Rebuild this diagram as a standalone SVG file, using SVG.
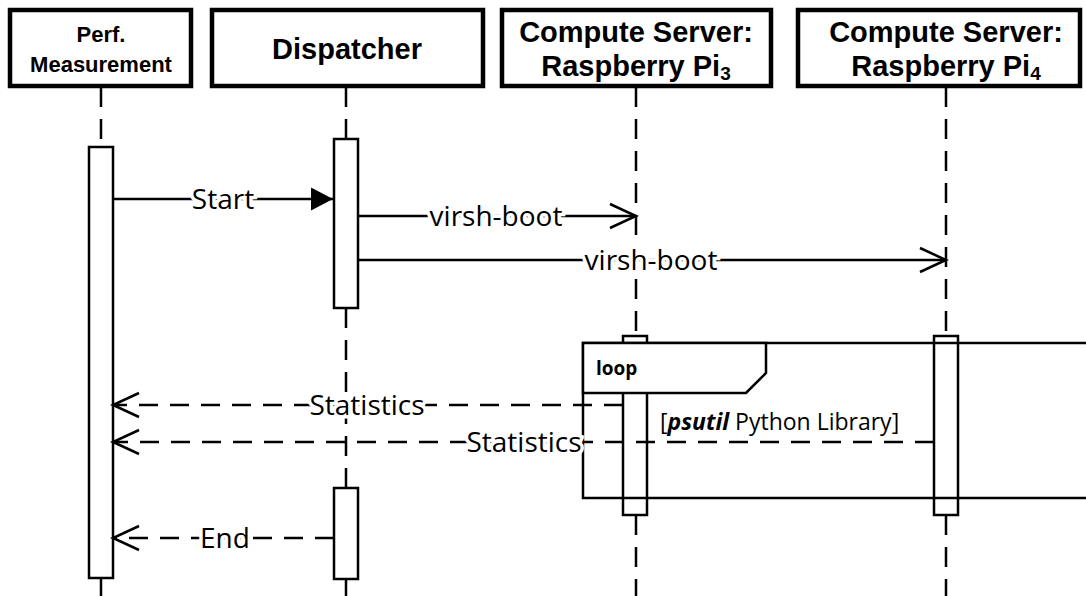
<svg xmlns="http://www.w3.org/2000/svg" width="1086" height="596" viewBox="0 0 1086 596">
<style>
.box{fill:#fff;stroke:#000;stroke-width:4.5}
.life{stroke:#000;stroke-width:2.5;stroke-dasharray:20 12;fill:none}
.act{fill:#fff;stroke:#000;stroke-width:2.5}
.frame{fill:none;stroke:#000;stroke-width:2.5}
.hdr{fill:#fff;stroke:#000;stroke-width:2.5}
.msg{stroke:#000;stroke-width:2.5;fill:none}
.ret{stroke:#000;stroke-width:2.5;fill:none;stroke-dasharray:19 12}
.title{font-family:"Liberation Sans",Arial,sans-serif;font-weight:bold;text-anchor:middle;fill:#000}
.tag{font-family:"Open Sans","Liberation Sans",sans-serif;font-weight:bold;fill:#000}
.lbl{font-family:"Open Sans","Liberation Sans",sans-serif;font-size:28px;text-anchor:middle;fill:#000;stroke:#fff;stroke-width:7;paint-order:stroke}
.guard{font-family:"Open Sans","Liberation Sans",sans-serif;font-size:23px;fill:#000}
</style>
<defs>
<marker id="filled" markerWidth="24" markerHeight="24" refX="22" refY="11.5" orient="auto" markerUnits="userSpaceOnUse" overflow="visible">
<path d="M0,0 L22,11.5 L0,23 Z" fill="#000"/>
</marker>
<marker id="open" markerWidth="30" markerHeight="28" refX="27" refY="13" orient="auto" markerUnits="userSpaceOnUse" overflow="visible">
<path d="M1,1 L27,13 L1,25" fill="none" stroke="#000" stroke-width="2.5"/>
</marker>
</defs>
<rect width="1086" height="596" fill="#fff"/>

<g id="lifelines">
<line class="life" x1="101" y1="87" x2="101" y2="147"/>
<line class="life" x1="101" y1="578" x2="101" y2="596"/>
<line class="life" x1="346" y1="87" x2="346" y2="139"/>
<line class="life" x1="346" y1="308" x2="346" y2="488"/>
<line class="life" x1="346" y1="579" x2="346" y2="596"/>
<line class="life" x1="636" y1="87" x2="636" y2="336"/>
<line class="life" x1="636" y1="515" x2="636" y2="596"/>
<line class="life" x1="946" y1="87" x2="946" y2="336"/>
<line class="life" x1="946" y1="515" x2="946" y2="596"/>
</g>

<g id="perf">
<rect class="box" x="10" y="10" width="181" height="76"/>
<text class="title" x="101" y="42" font-size="22">Perf.</text>
<text class="title" x="101" y="72" font-size="22">Measurement</text>
<rect class="act" x="89" y="147" width="24" height="431"/>
</g>

<g id="dispatcher">
<rect class="box" x="212" y="10" width="271" height="76"/>
<text class="title" x="347" y="59" font-size="29">Dispatcher</text>
<rect class="act" x="334" y="139" width="24" height="169"/>
<rect class="act" x="334" y="488" width="24" height="91"/>
</g>

<g id="pi3">
<rect class="box" x="502" y="10" width="269" height="76"/>
<text class="title" x="636" y="42" font-size="29">Compute Server:</text>
<text class="title" x="636" y="76" font-size="29">Raspberry Pi<tspan font-size="19" dy="4">3</tspan></text>
<rect class="act" x="623" y="336" width="24" height="179"/>
</g>

<g id="pi4">
<rect class="box" x="798" y="10" width="282" height="76"/>
<text class="title" x="946" y="42" font-size="29">Compute Server:</text>
<text class="title" x="946" y="76" font-size="29">Raspberry Pi<tspan font-size="19" dy="4">4</tspan></text>
<rect class="act" x="934" y="336" width="24" height="179"/>
</g>

<g id="loop">
<rect class="frame" x="583" y="343" width="530" height="155"/>
<polygon class="hdr" points="583,343 766,343 766,373 746,393 583,393"/>
<text class="tag" x="596" y="375" font-size="19">loop</text>
<text class="guard" x="660" y="430">[<tspan font-weight="bold" font-style="italic">psutil</tspan> Python Library]</text>
</g>

<g id="connectors">
<line class="msg" x1="113" y1="199" x2="333" y2="199" marker-end="url(#filled)"/>
<text class="lbl" x="223" y="209">Start</text>
<line class="msg" x1="358" y1="216" x2="636" y2="216" marker-end="url(#open)"/>
<text class="lbl" x="496" y="226">virsh-boot</text>
<line class="msg" x1="358" y1="260" x2="946" y2="260" marker-end="url(#open)"/>
<text class="lbl" x="651" y="270">virsh-boot</text>
<line class="ret" x1="623" y1="405" x2="113" y2="405" marker-end="url(#open)"/>
<text class="lbl" x="367" y="415">Statistics</text>
<line class="ret" x1="934" y1="442" x2="113" y2="442" marker-end="url(#open)"/>
<text class="lbl" x="524" y="452">Statistics</text>
<line class="ret" x1="334" y1="538" x2="113" y2="538" marker-end="url(#open)"/>
<text class="lbl" x="225" y="548">End</text>
</g>
</svg>
